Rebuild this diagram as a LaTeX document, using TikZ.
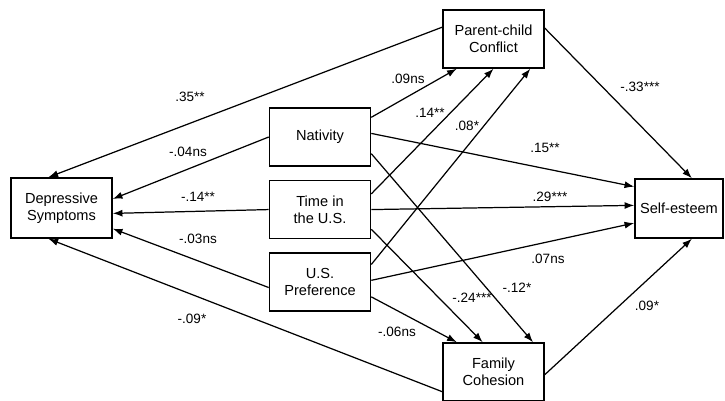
\documentclass[tikz,border=0pt]{standalone}
\usepackage{fontspec}
\setmainfont{Liberation Sans}
\usepackage{tikz}
\usetikzlibrary{arrows.meta, positioning}

\begin{document}
\begin{tikzpicture}[
    x=0.02cm, y=-0.02cm,
    box/.style={draw, line width=0.9pt, minimum width=2.02cm, minimum height=1.16cm, font=\fontsize{8.3}{9.6}\selectfont, align=center, inner sep=1pt},
    coef/.style={font=\fontsize{7.7}{9}\selectfont, inner sep=1pt},
    link/.style={-{Latex[length=5.5pt,width=4pt]}, line width=0.7pt}
]
    \useasboundingbox (0,0) rectangle (725,400);

    % variables
    \node[box, minimum height=1.2cm] (dep) at (61.5,208) {Depressive\\Symptoms};
    \node[box] (nat) at (320,137) {Nativity};
    \node[box, below=0.26cm of nat] (time) {Time in\\the U.S.};
    \node[box, below=0.26cm of time] (pref) {U.S.\\Preference};
    \node[box] (conf) at (493.5,39) {Parent-child\\Conflict};
    \node[box] (coh) at (493.5,372) {Family\\Cohesion};
    \node[box, minimum width=1.76cm, minimum height=1.18cm] (se) at (679,208.5) {Self-esteem};

    % paths to depressive symptoms
    \draw[link] (conf.167) -- (dep.113);
    \draw[link] (nat.west) -- (dep.10);
    \draw[link] (time.west) -- (dep.-6);
    \draw[link] (pref.186) -- (dep.-22);
    \draw[link] (coh.201) -- (dep.-113);

    % paths to the mediators
    \draw[link] (nat.21) -- (conf.-141);
    \draw[link] (time.17) -- (conf.south);
    \draw[link] (pref.19) -- (conf.-39);
    \draw[link] (nat.-18) -- (coh.37);
    \draw[link] (time.-21) -- (coh.110);
    \draw[link] (pref.-16) -- (coh.141);

    % paths to self-esteem
    \draw[link] (conf.12) -- (se.67);
    \draw[link] (nat.4) -- (se.154);
    \draw[link] (time.east) -- (se.176);
    \draw[link] (pref.2) -- (se.198);
    \draw[link] (coh.-3) -- (se.-67);

    % coefficients
    \node[coef] (cConfDep) at (190,97) {.35**};
    \node[coef] (cNatDep) at (188,152) {-.04ns};
    \node[coef] (cTimeDep) at (198,197) {-.14**};
    \node[coef] (cPrefDep) at (198,239) {-.03ns};
    \node[coef] (cCohDep) at (192,319) {-.09*};
    \node[coef] (cNatConf) at (408,79) {.09ns};
    \node[coef] (cTimeConf) at (430,113) {.14**};
    \node[coef] (cPrefConf) at (467,126) {.08*};
    \node[coef] (cConfSe) at (640,87) {-.33***};
    \node[coef] (cNatSe) at (545,148) {.15**};
    \node[coef] (cTimeSe) at (550,197) {.29***};
    \node[coef] (cPrefSe) at (548,259) {.07ns};
    \node[coef] (cNatCoh) at (517,288) {-.12*};
    \node[coef] (cTimeCoh) at (472,298) {-.24***};
    \node[coef] (cPrefCoh) at (397,332) {-.06ns};
    \node[coef] (cCohSe) at (647,306) {.09*};
\end{tikzpicture}
\end{document}
